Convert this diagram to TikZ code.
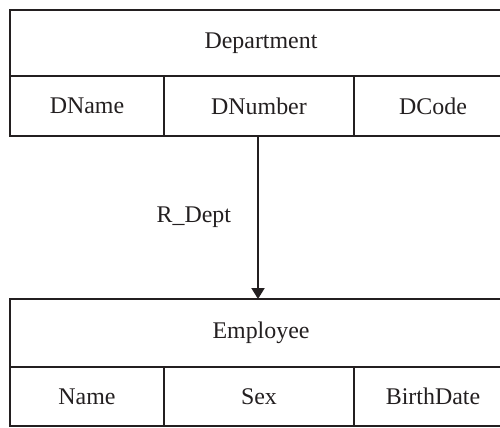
\documentclass[tikz,border=0pt]{standalone}
\usepackage{fontspec}
\setmainfont{Liberation Serif}
\usepackage{xcolor}
\usetikzlibrary{arrows.meta}
\definecolor{ink}{HTML}{231F20}
\tikzset{
  cell/.style={draw=ink, text=ink, line width=2bp, inner sep=0pt, outer sep=0pt, anchor=north west, font=\fontsize{24}{28}\selectfont},
  head/.style={cell, minimum width=502bp},
  field/.style={cell}
}

\begin{document}
\begin{tikzpicture}[x=1bp,y=-1bp]
\clip (0,0) rectangle (500,427);
\node[head, minimum height=66bp] (dept) at (10,10) {Department};
\node[field, minimum width=154bp, minimum height=60bp] (dname) at (dept.south west) {DName};
\node[field, minimum width=190bp, minimum height=60bp] (dnumber) at (dname.north east) {DNumber};
\node[field, minimum width=158bp, minimum height=60bp] (dcode) at (dnumber.north east) {DCode};
\node[head, minimum height=68bp] (emp) at (10,299) {Employee};
\node[field, minimum width=154bp, minimum height=59bp] (name) at (emp.south west) {Name};
\node[field, minimum width=190bp, minimum height=59bp] (sex) at (name.north east) {Sex};
\node[field, minimum width=158bp, minimum height=59bp] (birth) at (sex.north east) {BirthDate};
\draw[draw=ink, line width=2bp, -{Triangle[width=13bp,length=11bp]}] ([xshift=-1bp]dnumber.south) -- ([xshift=-1bp]dnumber.south |- emp.north)
  node[midway, left=26bp, inner sep=0pt, text=ink, font=\fontsize{24}{28}\selectfont] (rdept) {R\_Dept};
\end{tikzpicture}
\end{document}
